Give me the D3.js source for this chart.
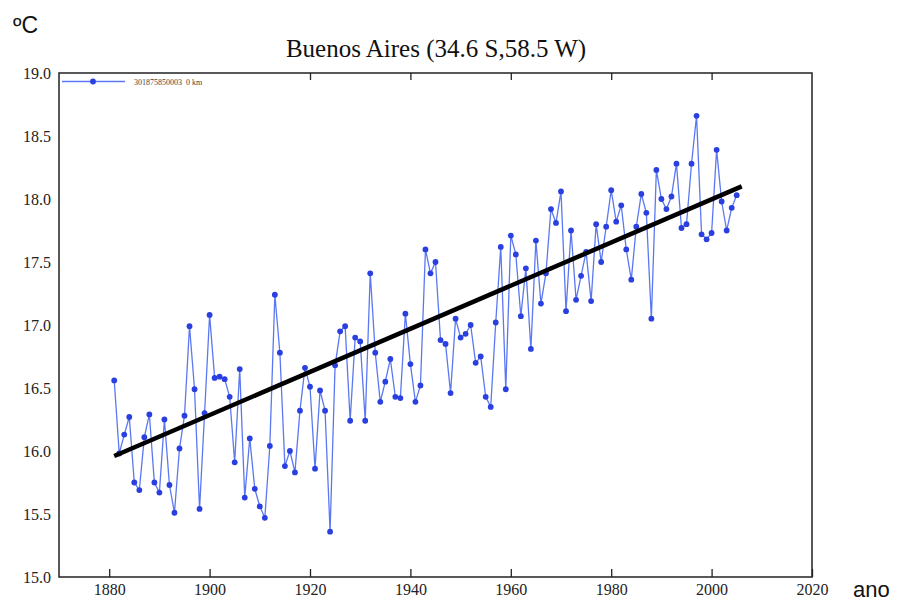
<!DOCTYPE html>
<html>
<head>
<meta charset="utf-8">
<script src="https://cdn.jsdelivr.net/npm/d3@7"></script>
<style>
  html, body { margin: 0; padding: 0; background: #ffffff; }
  svg { display: block; }
</style>
</head>
<body>
<svg id="chart" width="902" height="602"></svg>
<script>
// Annual mean temperature, Buenos Aires station, 1881-2005 (°C)
const years = d3.range(1881, 2006);
const temps = [
  16.56, 15.98, 16.13, 16.27, 15.75, 15.69, 16.11, 16.29, 15.75, 15.67,
  16.25, 15.73, 15.51, 16.02, 16.28, 16.99, 16.49, 15.54, 16.30, 17.08,
  16.58, 16.59, 16.57, 16.43, 15.91, 16.65, 15.63, 16.10, 15.70, 15.56,
  15.47, 16.04, 17.24, 16.78, 15.88, 16.00, 15.83, 16.32, 16.66, 16.51,
  15.86, 16.48, 16.32, 15.36, 16.68, 16.95, 16.99, 16.24, 16.90, 16.87,
  16.24, 17.41, 16.78, 16.39, 16.55, 16.73, 16.43, 16.42, 17.09, 16.69,
  16.39, 16.52, 17.60, 17.41, 17.50, 16.88, 16.85, 16.46, 17.05, 16.90,
  16.93, 17.00, 16.70, 16.75, 16.43, 16.35, 17.02, 17.62, 16.49, 17.71,
  17.56, 17.07, 17.45, 16.81, 17.67, 17.17, 17.41, 17.92, 17.81, 18.06,
  17.11, 17.75, 17.20, 17.39, 17.58, 17.19, 17.80, 17.50, 17.78, 18.07,
  17.82, 17.95, 17.60, 17.36, 17.78, 18.04, 17.89, 17.05, 18.23, 18.00,
  17.92, 18.02, 18.28, 17.77, 17.80, 18.28, 18.66, 17.72, 17.68, 17.73,
  18.39, 17.98, 17.75, 17.93, 18.03
];

// Linear trend endpoints
const trendYears = [1881, 2006];
const trendTemps = [15.96, 18.10];

// Axis ticks
const xTicks = [1880, 1900, 1920, 1940, 1960, 1980, 2000, 2020];
const yTicks = [15.0, 15.5, 16.0, 16.5, 17.0, 17.5, 18.0, 18.5, 19.0];

const titleText = "Buenos Aires (34.6 S,58.5 W)";
const legendText = "301875850003  0 km";
const yUnit = "ºC";
const xUnit = "ano";

const svg = d3.select("#chart");
const plot = { left: 59, right: 812, top: 73, bottom: 577 };

const x = d3.scaleLinear().domain([1870, 2020]).range([plot.left, plot.right]);
const y = d3.scaleLinear().domain([15, 19]).range([plot.bottom, plot.top]);

// Fonts
const fSerif = "Liberation Serif";
const fSans = "Liberation Sans";

// Data series
const data = years.map((yr, i) => ({ yr, t: temps[i] }));
const line = d3.line().x(d => x(d.yr)).y(d => y(d.t));

svg.append("path")
  .datum(data)
  .attr("d", line)
  .attr("fill", "none")
  .attr("stroke", "#5b78f2")
  .attr("stroke-width", 1.3);

svg.append("g").selectAll("circle")
  .data(data)
  .join("circle")
  .attr("cx", d => x(d.yr))
  .attr("cy", d => y(d.t))
  .attr("r", 2.9)
  .attr("fill", "#2a3fe0");

// Trend line
const trend = trendYears.map((yr, i) => ({ yr, t: trendTemps[i] }));
svg.append("path")
  .datum(trend)
  .attr("d", line)
  .attr("fill", "none")
  .attr("stroke", "#000000")
  .attr("stroke-width", 4.5);

// Legend (white panel in the top-left corner)
const lg = svg.append("g");
lg.append("rect")
  .attr("x", plot.left + 1).attr("y", plot.top + 1)
  .attr("width", 190).attr("height", 16)
  .attr("fill", "#ffffff");
lg.append("line")
  .attr("x1", 62).attr("x2", 125)
  .attr("y1", 81.5).attr("y2", 81.5)
  .attr("stroke", "#5b78f2").attr("stroke-width", 1.3);
lg.append("circle")
  .attr("cx", 93).attr("cy", 81.5).attr("r", 2.9)
  .attr("fill", "#2a3fe0");
lg.append("text")
  .attr("x", 134).attr("y", 84.5)
  .style("font-family", fSerif)
  .style("font-size", "8px")
  .attr("fill", "#444")
  .attr("xml:space", "preserve")
  .text(legendText);

// Frame
svg.append("rect")
  .attr("x", plot.left).attr("y", plot.top)
  .attr("width", plot.right - plot.left)
  .attr("height", plot.bottom - plot.top)
  .attr("fill", "none")
  .attr("stroke", "#222")
  .attr("stroke-width", 1.5);

// Bottom axis: inward ticks + labels
const xAxis = d3.axisBottom(x).tickValues(xTicks).tickFormat(d3.format("d"))
  .tickSizeInner(-8).tickSizeOuter(0).tickPadding(7);
const gx = svg.append("g")
  .attr("transform", `translate(0,${plot.bottom})`)
  .call(xAxis);
gx.select(".domain").remove();
gx.selectAll(".tick line").attr("stroke", "#222").attr("stroke-width", 1.3);
gx.selectAll(".tick text")
  .style("font-family", fSerif).style("font-size", "16px").attr("fill", "#222");

// Top axis: inward ticks only (left part hidden by the legend panel)
const topTicks = xTicks.filter(v => x(v) > plot.left + 192 && v < 2020);
const xTop = d3.axisTop(x).tickValues(topTicks).tickFormat("")
  .tickSizeInner(-7).tickSizeOuter(0);
const gt = svg.append("g")
  .attr("transform", `translate(0,${plot.top})`)
  .call(xTop);
gt.select(".domain").remove();
gt.selectAll(".tick line").attr("stroke", "#222").attr("stroke-width", 1.3);

// Left axis labels
const yAxis = d3.axisLeft(y).tickValues(yTicks).tickFormat(d3.format(".1f"))
  .tickSize(0).tickPadding(8);
const gy = svg.append("g")
  .attr("transform", `translate(${plot.left},0)`)
  .call(yAxis);
gy.select(".domain").remove();
gy.selectAll(".tick text")
  .style("font-family", fSerif).style("font-size", "16px").attr("fill", "#222");

// Title and unit labels
svg.append("text")
  .attr("x", 436).attr("y", 57)
  .attr("text-anchor", "middle")
  .style("font-family", fSerif).style("font-size", "25px")
  .attr("fill", "#111")
  .text(titleText);

svg.append("text")
  .attr("x", 13).attr("y", 33)
  .style("font-family", fSans).style("font-size", "23px")
  .attr("fill", "#111")
  .text(yUnit);

svg.append("text")
  .attr("x", 853).attr("y", 597)
  .style("font-family", fSans).style("font-size", "22px")
  .attr("fill", "#111")
  .text(xUnit);
</script>
</body>
</html>
